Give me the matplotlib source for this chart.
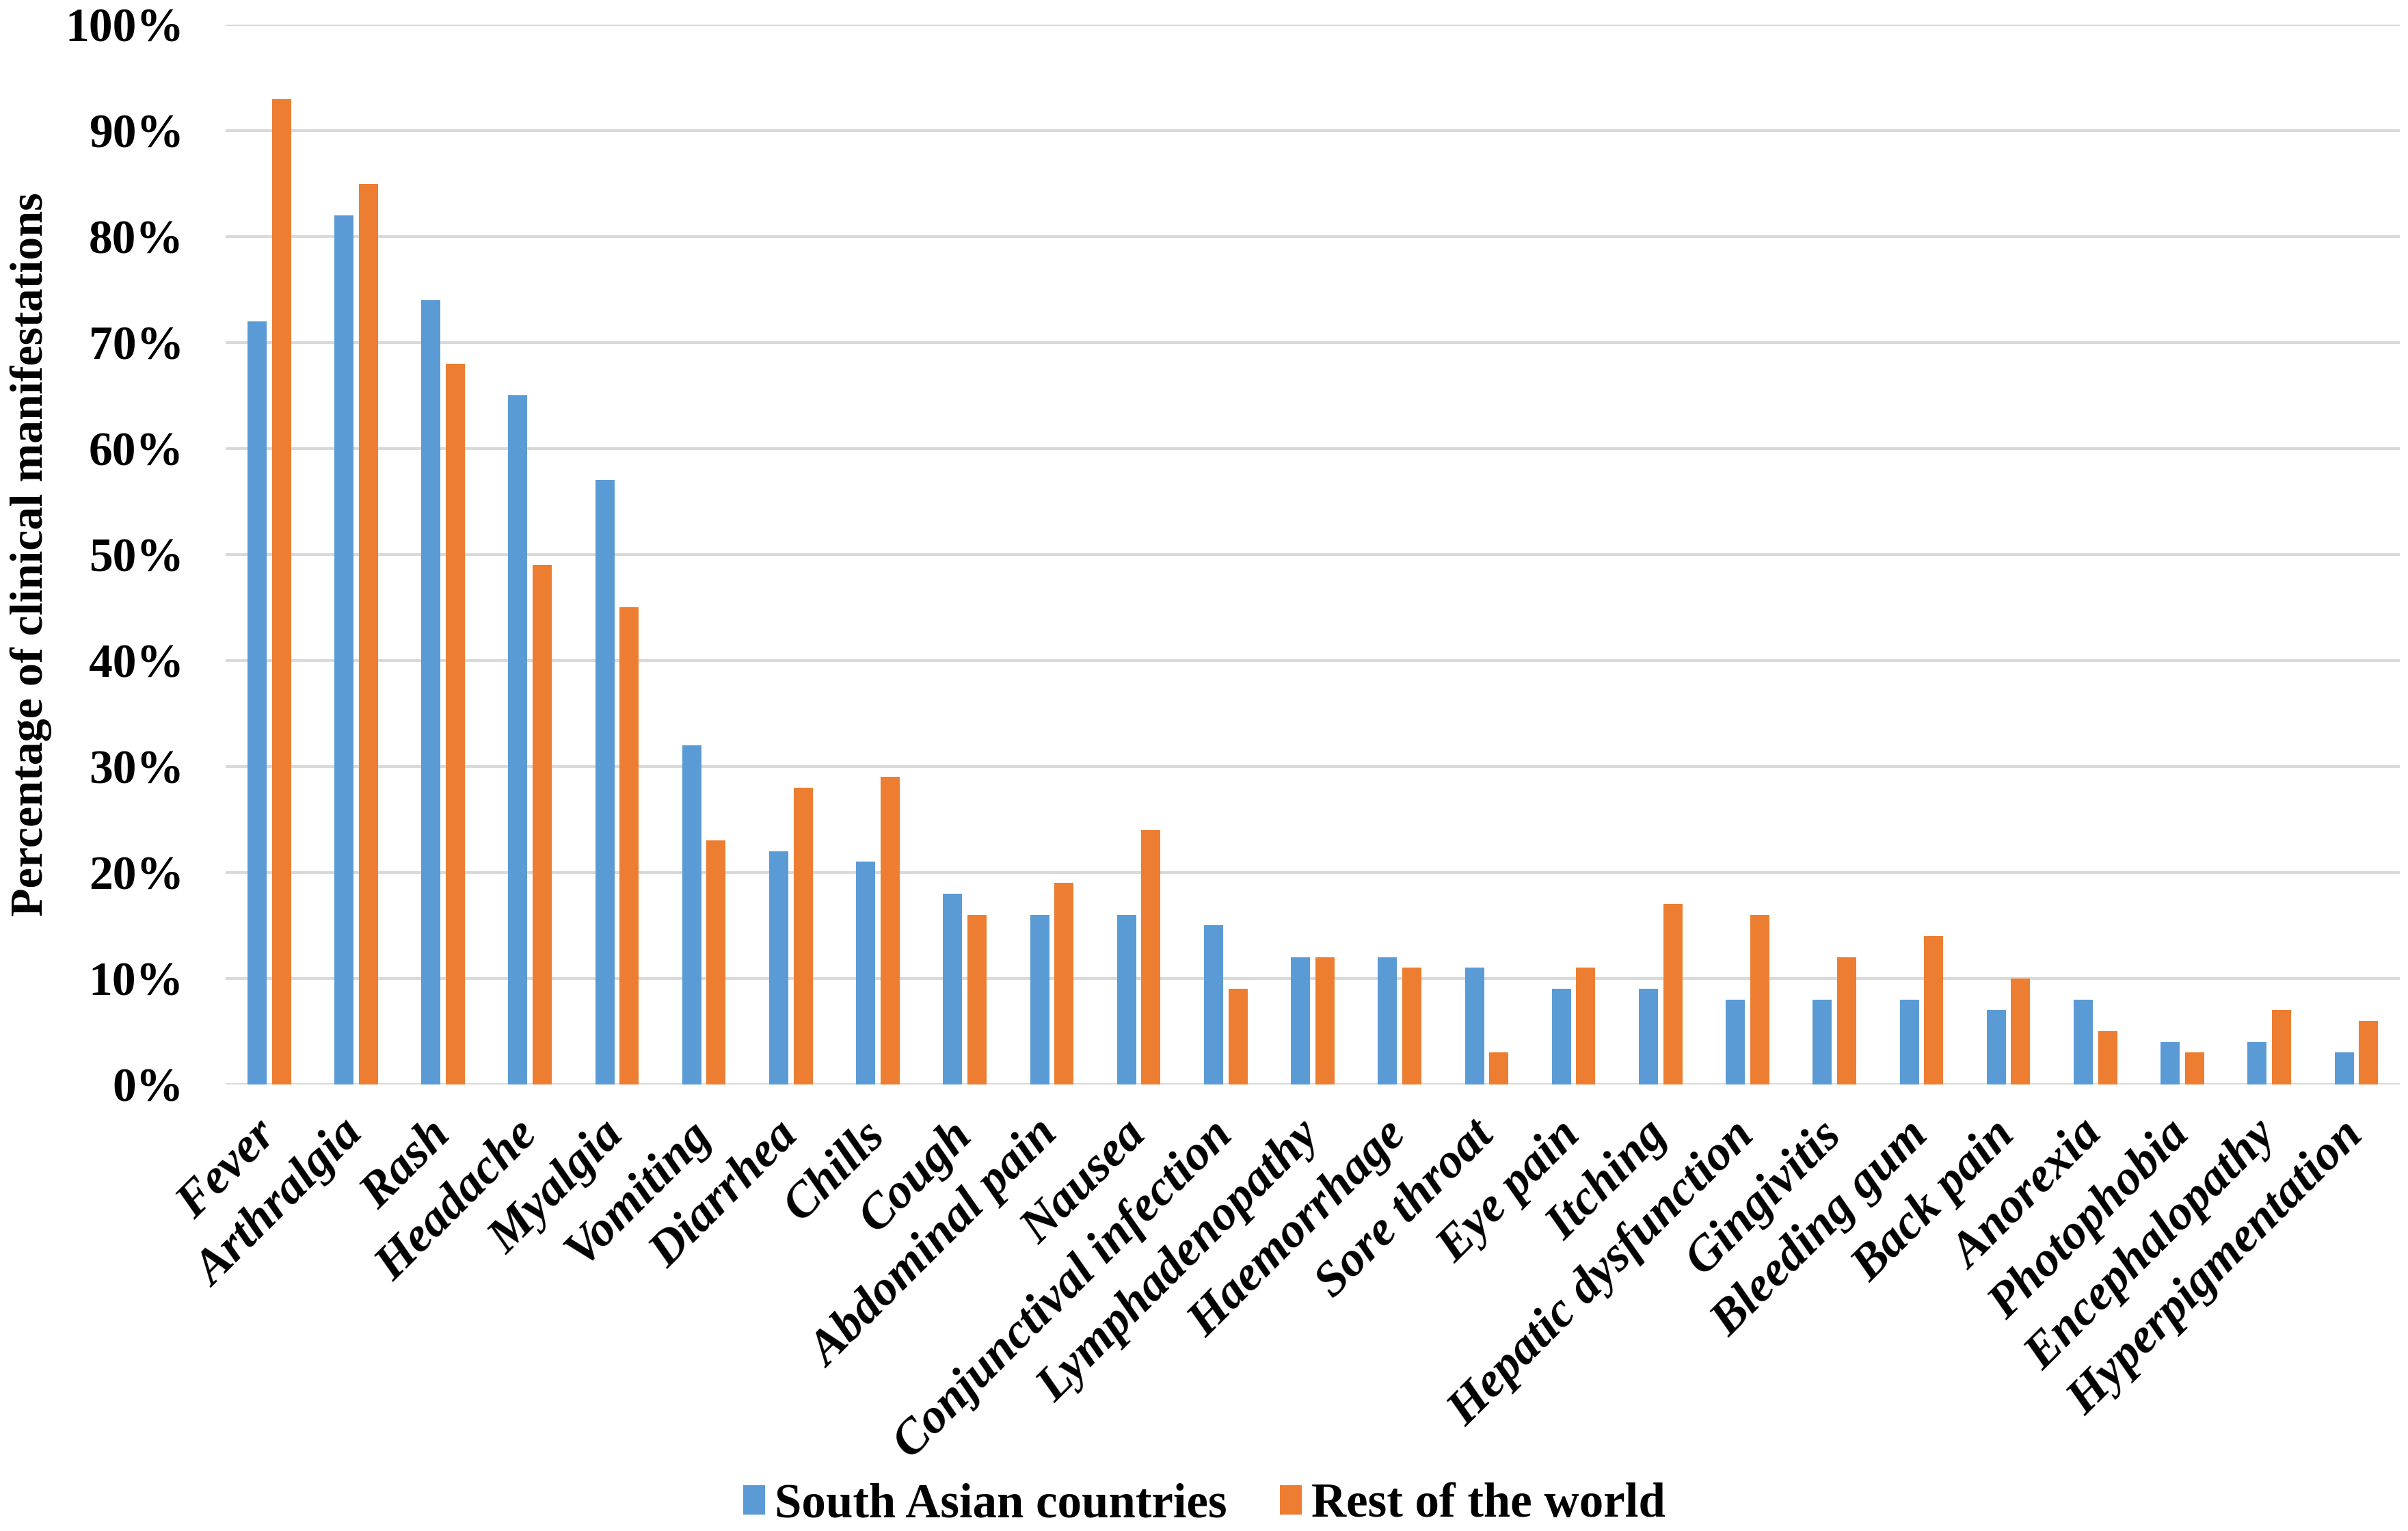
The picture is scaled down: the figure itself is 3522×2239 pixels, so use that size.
import numpy as np
import matplotlib
matplotlib.use("Agg")
import matplotlib.pyplot as plt
from matplotlib.ticker import PercentFormatter

plt.rcParams['font.family'] = ['Liberation Serif', 'DejaVu Serif']
plt.rcParams['font.weight'] = 'bold'

symptoms = ["Fever", "Arthralgia", "Rash", "Headache", "Myalgia", "Vomiting",
            "Diarrhea", "Chills", "Cough", "Abdominal pain", "Nausea",
            "Conjunctival infection", "Lymphadenopathy", "Haemorrhage",
            "Sore throat", "Eye pain", "Itching", "Hepatic dysfunction",
            "Gingivitis", "Bleeding gum", "Back pain", "Anorexia",
            "Photophobia", "Encephalopathy", "Hyperpigmentation"]
south_asia = [72, 82, 74, 65, 57, 32, 22, 21, 18, 16, 16, 15, 12, 12, 11,
              9, 9, 8, 8, 8, 7, 8, 4, 4, 3]
rest_world = [93, 85, 68, 49, 45, 23, 28, 29, 16, 19, 24, 9, 12, 11, 3,
              11, 17, 16, 12, 14, 10, 5, 3, 7, 6]
y_ticks = [0, 10, 20, 30, 40, 50, 60, 70, 80, 90, 100]

blue = '#5B9BD5'
orange = '#ED7D31'

fig = plt.figure(figsize=(17.615, 11.195), dpi=200)
ax = fig.add_axes([0.0937, 0.2917, 0.9026, 0.6922])

x = np.arange(len(symptoms))
w = 0.22
ax.bar(x - 0.14, south_asia, w, color=blue, label='South Asian countries', zorder=3)
ax.bar(x + 0.14, rest_world, w, color=orange, label='Rest of the world', zorder=3)

ax.set_xlim(-0.5, len(symptoms) - 0.5)
ax.set_ylim(0, 100)
ax.set_yticks(y_ticks)
ax.yaxis.set_major_formatter(PercentFormatter(decimals=0))
ax.grid(axis='y', color='#D9D9D9', linewidth=1.5, zorder=0)
for s in ax.spines.values():
    s.set_visible(False)
ax.tick_params(axis='both', length=0)
ax.tick_params(axis='y', labelsize=25, pad=22)

ax.set_xticks(x)
ax.set_xticklabels(symptoms, rotation=45, ha='right', va='center',
                   rotation_mode='anchor', fontsize=26, style='italic',
                   fontweight='bold')
ax.tick_params(axis='x', pad=23)

ax.set_ylabel('Percentage of clinical manifestations', fontsize=24.5,
              fontweight='bold')
ax.yaxis.set_label_coords(-0.08, 0.5)

fig.legend(loc='center', bbox_to_anchor=(0.5, 0.017), ncol=2, frameon=False,
           fontsize=25.5, handlelength=0.45, handleheight=0.55, handletextpad=0.2,
           columnspacing=1.1)

fig.savefig('out.png', dpi=200)
